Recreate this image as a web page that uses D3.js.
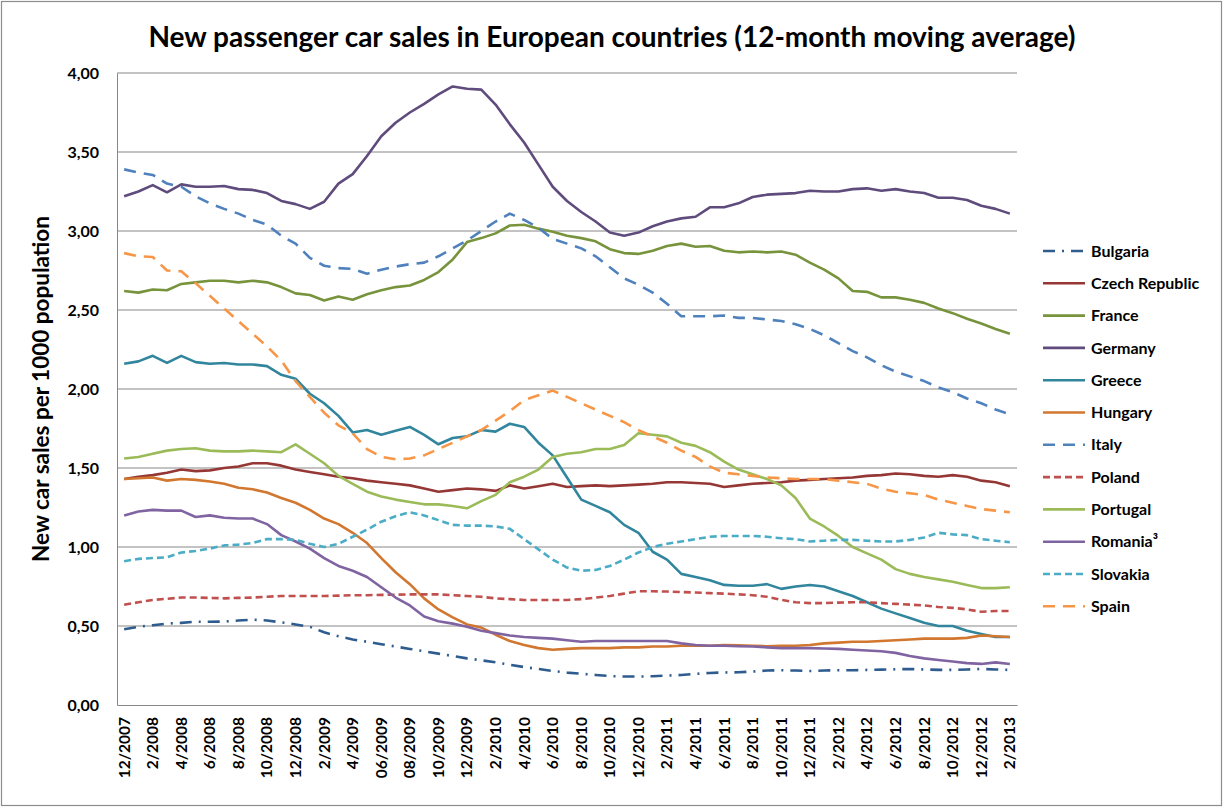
<!DOCTYPE html>
<html><head><meta charset="utf-8">
<script src="https://cdn.jsdelivr.net/npm/d3@7/dist/d3.min.js"></script>
<style>
html,body{margin:0;padding:0;background:#fff;}
text{font-family:Lato,"Open Sans",sans-serif;font-weight:bold;fill:#000;}
</style></head>
<body><svg id="c" width="1224" height="808"></svg>
<script>
const categories = ["12/2007","1/2008","2/2008","3/2008","4/2008","5/2008","6/2008","7/2008","8/2008","9/2008","10/2008","11/2008",
"12/2008","1/2009","2/2009","3/2009","4/2009","5/2009","06/2009","7/2009","08/2009","9/2009","10/2009","11/2009",
"12/2009","1/2010","2/2010","3/2010","4/2010","5/2010","6/2010","7/2010","8/2010","9/2010","10/2010","11/2010",
"12/2010","1/2011","2/2011","3/2011","4/2011","5/2011","6/2011","7/2011","8/2011","9/2011","10/2011","11/2011",
"12/2011","1/2012","2/2012","3/2012","4/2012","5/2012","6/2012","7/2012","8/2012","9/2012","10/2012","11/2012",
"12/2012","1/2013","2/2013"];
const tickLabels = ["12/2007","2/2008","4/2008","6/2008","8/2008","10/2008","12/2008","2/2009","4/2009","06/2009","08/2009","10/2009","12/2009",
"2/2010","4/2010","6/2010","8/2010","10/2010","12/2010","2/2011","4/2011","6/2011","8/2011","10/2011","12/2011",
"2/2012","4/2012","6/2012","8/2012","10/2012","12/2012","2/2013"];
const yTicks = [0,0.5,1,1.5,2,2.5,3,3.5,4];

const bulgaria = [0.48,0.495,0.505,0.515,0.52,0.527,0.527,0.528,0.535,0.54,0.535,0.523,0.51,0.495,0.46,0.435,0.415,0.40,0.385,0.37,0.355,0.34,0.325,0.31,0.295,0.283,0.27,0.255,0.24,0.228,0.215,0.205,0.198,0.19,0.183,0.18,0.18,0.182,0.186,0.19,0.197,0.203,0.206,0.207,0.212,0.218,0.22,0.218,0.215,0.218,0.22,0.22,0.222,0.224,0.226,0.228,0.225,0.222,0.222,0.225,0.228,0.225,0.222];
const czech = [1.43,1.445,1.455,1.47,1.49,1.48,1.485,1.50,1.51,1.53,1.53,1.515,1.49,1.475,1.46,1.445,1.435,1.42,1.41,1.40,1.39,1.37,1.35,1.36,1.37,1.365,1.355,1.39,1.37,1.385,1.40,1.38,1.385,1.39,1.385,1.39,1.395,1.40,1.41,1.41,1.405,1.40,1.38,1.39,1.40,1.405,1.41,1.42,1.425,1.43,1.435,1.44,1.45,1.455,1.465,1.46,1.45,1.445,1.455,1.445,1.42,1.41,1.385];
const france = [2.62,2.61,2.63,2.625,2.665,2.675,2.685,2.685,2.675,2.685,2.675,2.645,2.605,2.595,2.56,2.585,2.565,2.60,2.625,2.645,2.655,2.69,2.74,2.82,2.93,2.955,2.985,3.035,3.04,3.015,2.995,2.97,2.955,2.935,2.885,2.86,2.855,2.875,2.905,2.92,2.90,2.905,2.875,2.865,2.87,2.865,2.87,2.85,2.80,2.755,2.70,2.62,2.615,2.58,2.58,2.565,2.545,2.51,2.48,2.445,2.415,2.38,2.35];
const germany = [3.22,3.25,3.29,3.245,3.295,3.28,3.28,3.285,3.265,3.26,3.24,3.19,3.17,3.14,3.185,3.30,3.36,3.475,3.60,3.685,3.75,3.805,3.865,3.915,3.90,3.895,3.80,3.675,3.56,3.42,3.28,3.19,3.12,3.06,2.99,2.97,2.99,3.03,3.06,3.08,3.09,3.15,3.15,3.175,3.215,3.23,3.235,3.24,3.255,3.25,3.25,3.265,3.27,3.255,3.265,3.25,3.24,3.21,3.21,3.196,3.16,3.14,3.11];
const greece = [2.16,2.175,2.21,2.165,2.21,2.17,2.16,2.165,2.155,2.155,2.145,2.09,2.065,1.97,1.91,1.83,1.725,1.74,1.71,1.735,1.76,1.71,1.65,1.69,1.70,1.74,1.73,1.78,1.76,1.66,1.58,1.44,1.30,1.26,1.22,1.14,1.09,0.97,0.92,0.83,0.81,0.79,0.76,0.755,0.755,0.765,0.735,0.75,0.76,0.75,0.72,0.69,0.65,0.61,0.58,0.55,0.52,0.50,0.50,0.47,0.45,0.43,0.43];
const hungary = [1.43,1.435,1.44,1.42,1.43,1.425,1.415,1.40,1.375,1.365,1.345,1.31,1.28,1.235,1.18,1.145,1.09,1.025,0.93,0.84,0.765,0.675,0.605,0.555,0.51,0.49,0.445,0.405,0.38,0.36,0.35,0.355,0.36,0.36,0.36,0.365,0.365,0.37,0.37,0.375,0.375,0.375,0.38,0.378,0.375,0.372,0.375,0.375,0.38,0.39,0.395,0.40,0.40,0.405,0.41,0.415,0.42,0.42,0.42,0.425,0.44,0.435,0.43];
const italy = [3.39,3.37,3.355,3.30,3.28,3.22,3.175,3.14,3.11,3.07,3.04,2.97,2.92,2.83,2.78,2.765,2.76,2.73,2.755,2.775,2.79,2.80,2.84,2.89,2.94,3.00,3.06,3.11,3.07,3.02,2.95,2.92,2.89,2.84,2.77,2.70,2.66,2.61,2.54,2.46,2.46,2.46,2.465,2.45,2.45,2.44,2.43,2.41,2.38,2.34,2.29,2.24,2.20,2.15,2.11,2.08,2.05,2.01,1.98,1.94,1.91,1.87,1.84];
const poland = [0.635,0.65,0.665,0.672,0.68,0.68,0.678,0.675,0.678,0.68,0.685,0.69,0.69,0.69,0.69,0.692,0.695,0.695,0.697,0.698,0.70,0.70,0.70,0.695,0.69,0.685,0.675,0.67,0.665,0.665,0.665,0.665,0.67,0.68,0.69,0.705,0.72,0.72,0.718,0.715,0.712,0.708,0.705,0.70,0.695,0.685,0.665,0.65,0.645,0.645,0.648,0.65,0.65,0.645,0.64,0.635,0.63,0.62,0.615,0.605,0.59,0.595,0.595];
const portugal = [1.56,1.57,1.59,1.61,1.62,1.625,1.61,1.605,1.605,1.61,1.605,1.60,1.65,1.59,1.53,1.45,1.40,1.35,1.32,1.30,1.285,1.27,1.27,1.26,1.245,1.29,1.33,1.41,1.445,1.49,1.57,1.59,1.60,1.62,1.62,1.645,1.72,1.71,1.70,1.66,1.64,1.60,1.54,1.49,1.46,1.43,1.39,1.31,1.18,1.13,1.07,1.00,0.96,0.92,0.86,0.83,0.81,0.795,0.78,0.76,0.74,0.74,0.745];
const romania = [1.20,1.225,1.235,1.23,1.23,1.19,1.20,1.185,1.18,1.18,1.145,1.075,1.035,0.99,0.93,0.88,0.85,0.81,0.745,0.68,0.63,0.56,0.53,0.515,0.495,0.47,0.455,0.44,0.43,0.425,0.42,0.41,0.40,0.405,0.405,0.405,0.405,0.405,0.405,0.39,0.38,0.375,0.375,0.372,0.37,0.365,0.36,0.36,0.36,0.358,0.355,0.35,0.345,0.34,0.33,0.31,0.295,0.285,0.275,0.265,0.26,0.27,0.26];
const slovakia = [0.91,0.925,0.93,0.935,0.965,0.975,0.99,1.01,1.015,1.025,1.05,1.05,1.045,1.02,1.00,1.02,1.065,1.11,1.16,1.195,1.22,1.20,1.17,1.14,1.135,1.135,1.13,1.115,1.05,0.985,0.92,0.87,0.85,0.855,0.88,0.92,0.965,1.00,1.02,1.035,1.05,1.065,1.07,1.07,1.07,1.065,1.055,1.05,1.035,1.04,1.045,1.045,1.04,1.035,1.035,1.045,1.06,1.09,1.08,1.075,1.05,1.04,1.03];
const spain = [2.86,2.84,2.835,2.75,2.745,2.67,2.59,2.51,2.43,2.35,2.27,2.18,2.05,1.95,1.85,1.77,1.72,1.62,1.57,1.555,1.56,1.58,1.62,1.66,1.70,1.74,1.80,1.86,1.93,1.96,1.99,1.95,1.91,1.87,1.83,1.79,1.74,1.70,1.66,1.61,1.57,1.51,1.47,1.46,1.45,1.44,1.435,1.43,1.43,1.43,1.42,1.41,1.40,1.37,1.35,1.34,1.33,1.30,1.28,1.26,1.24,1.23,1.22];

const seriesNames = ["Bulgaria","Czech Republic","France","Germany","Greece","Hungary","Italy","Poland","Portugal","Romania³","Slovakia","Spain"];
const seriesValues = [bulgaria,czech,france,germany,greece,hungary,italy,poland,portugal,romania,slovakia,spain];
const seriesColors = ["#2E5C8E","#953735","#77933C","#5F4B7C","#31859C","#D2772F","#4F81BD","#C0504D","#9BBB59","#8064A2","#4BACC6","#F79646"];
const seriesDash = ["12,7,2,7",null,null,null,null,null,"12,8","7,4",null,null,"7,4","12,8"];

const svg = d3.select("#c");
const L=117,R=1017,T=73,B=705;
svg.append("rect").attr("x",1.5).attr("y",1.5).attr("width",1220).attr("height",804)
  .attr("fill","#fff").attr("stroke","#8c8c8c").attr("stroke-width",1.2);

const x = d3.scaleBand().domain(categories).range([L,R]);
const xc = d => x(d)+x.bandwidth()/2;
const y = d3.scaleLinear().domain([0,4]).range([B,T]);
const fmt = v => d3.format(".2f")(v).replace(".",",");

// gridlines
svg.append("g").selectAll("line").data(yTicks.filter(v=>v>0)).join("line")
  .attr("x1",L).attr("x2",R).attr("y1",d=>y(d)).attr("y2",d=>y(d))
  .attr("stroke","#878787").attr("stroke-width",1);

// y axis
const yAxis = svg.append("g").attr("transform",`translate(${L},0)`)
  .call(d3.axisLeft(y).tickValues(yTicks).tickFormat(fmt).tickSize(0).tickPadding(18));
yAxis.select(".domain").attr("stroke","#878787");
yAxis.selectAll("text").style("font-size","16px").style("font-family","Lato").style("font-weight","bold");

// x axis
const xAxis = svg.append("g").attr("transform",`translate(0,${B})`)
  .call(d3.axisBottom(x).tickValues(categories.filter((c,i)=>i%2===0)).tickFormat((d,i)=>tickLabels[i]).tickSize(0));
xAxis.select(".domain").attr("stroke","#878787");
xAxis.selectAll("text").attr("transform","rotate(-90)").attr("text-anchor","end")
  .attr("x",-12).attr("y",0).attr("dy","0.35em")
  .style("font-size","15.5px").style("font-family","Lato").style("font-weight","bold");

// lines
const line = d3.line().x((d,i)=>xc(categories[i])).y(d=>y(d));
seriesValues.forEach((vals,k)=>{
  svg.append("path").datum(vals).attr("d",line).attr("fill","none")
    .attr("stroke",seriesColors[k]).attr("stroke-width",2.6)
    .attr("stroke-linejoin","round")
    .attr("stroke-dasharray",seriesDash[k]);
});

// title
svg.append("text").attr("x",612).attr("y",47).attr("text-anchor","middle")
  .style("font-size","28px").text("New passenger car sales in European countries (12-month moving average)");
svg.append("text").attr("transform","translate(49,389) rotate(-90)").attr("text-anchor","middle")
  .style("font-size","22.5px").text("New car sales per 1000 population");

// legend
const lg = svg.append("g");
seriesNames.forEach((n,k)=>{
  const yy = 251 + k*32.3;
  lg.append("line").attr("x1",1043).attr("x2",1085).attr("y1",yy).attr("y2",yy)
    .attr("stroke",seriesColors[k]).attr("stroke-width",2.6).attr("stroke-dasharray",seriesDash[k]);
  lg.append("text").attr("x",1091).attr("y",yy).attr("dy","0.35em").style("font-size","16px").text(n);
});
</script></body></html>
